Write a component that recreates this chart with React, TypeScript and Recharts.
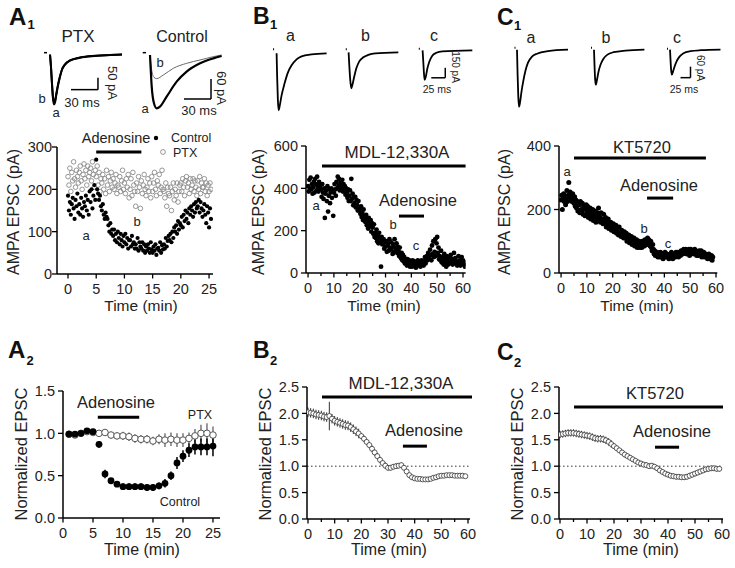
import React from 'react';
import { ScatterChart, Scatter, XAxis, YAxis, ReferenceLine, ErrorBar, LineChart, Line } from 'recharts';

const FONT = '"Liberation Sans", Arial, Helvetica, sans-serif';
const INK = '#222';

// ---------------- A1 scatter (pA), one sweep every 10 s ----------------
const A1_DT = 1 / 6;
const A1_CONTROL = [
  185,150,170,140,165,180, 155,130,175,160,190,145, 165,140,180,155,135,170, 160,185,150,175,140,195,
  170,200,155,185,210,175, 270,200,190,175,185,160, 150,165,140,130,145,135, 130,115,100,120,95,105,
  90,105,80,95,75,100, 85,70,95,80,65,90, 75,95,70,85,60,80, 80,65,90,70,75,60,
  70,60,85,55,75,65, 60,75,55,70,50,65, 55,70,60,50,75,58, 50,65,55,70,45,60,
  62,55,75,50,68,58, 70,60,85,65,78,90, 80,95,75,100,85,110, 100,115,95,125,105,120,
  115,135,110,140,125,150, 130,145,120,155,140,160, 150,135,165,145,170,155, 160,175,145,170,155,135,
  150,165,140,120,160,145, 110,155,130,
];
const A1_PTX = [
  230,210,250,195,240,220, 265,225,205,245,230,215, 240,255,220,200,235,260, 225,245,210,255,230,240,
  250,220,265,235,205,245, 230,255,210,240,195,225, 215,235,200,225,190,245, 210,230,195,220,240,205,
  225,200,215,235,190,210, 205,230,195,220,245,200, 215,190,225,205,235,180, 200,225,185,240,210,195,
  160,215,195,230,205,155, 220,190,210,235,200,185, 205,225,195,215,180,230, 195,215,240,200,185,220,
  210,235,190,205,245,200, 195,180,215,160,205,190, 185,205,150,195,215,175, 200,185,215,170,195,210,
  215,195,225,205,185,220, 230,205,215,190,225,200, 210,225,195,220,205,185, 220,200,230,190,215,205,
  205,225,195,215,185,210, 195,215,200,
];
const A1_X_TICKS = [0, 5, 10, 15, 20, 25];
const A1_Y_TICKS = [0, 100, 200, 300];

// ---------------- B1 scatter (pA), 4 sweeps / min ----------------
const B1_DT = 0.25;
const B1_MDL = [
  410,385,440,400, 450,395,420,375, 405,430,380,445, 420,390,455,410, 385,430,400,415,
  395,360,420,380, 350,400,260,375, 390,340,410,290, 365,395,330,380, 400,355,385,270,
  380,420,395,365, 430,400,455,410, 445,390,425,405, 415,440,385,420, 395,410,370,400,
  380,355,395,340, 365,390,340,445, 350,375,320,360, 330,360,310,345, 320,295,340,305,
  300,280,315,265, 285,250,300,270, 260,240,275,225, 245,210,260,230, 220,250,195,235,
  215,185,230,170, 190,165,205,150, 175,140,190,160, 150,30,170,135, 140,160,115,150,
  125,150,100,140, 130,105,160,115, 110,145,120,90, 135,100,160,120, 115,140,95,125,
  105,80,120,90, 70,95,60,85, 55,75,45,65, 50,35,65,45, 40,60,30,55,
  45,30,60,40, 35,55,40,25, 50,35,60,45, 40,55,30,50, 60,40,50,35,
  55,75,45,65, 80,60,95,70, 70,110,85,60, 130,90,150,75, 100,160,80,140,
  170,95,120,65, 80,60,105,50, 55,75,40,90, 45,65,30,80, 60,40,75,50,
  55,85,45,65, 40,60,95,50, 70,45,55,35, 50,80,40,60, 35,55,75,45,
  60,40,50,30,
];
const B1_X_TICKS = [0,5,10,15,20,25,30,35,40,45,50,55,60];
const X_MAJORS_60 = [0, 10, 20, 30, 40, 50, 60];
const B1_Y_TICKS = [0, 200, 400, 600];

// ---------------- C1 scatter (pA), 4 sweeps / min ----------------
const C1_DT = 0.25;
const C1_KT = [
  230,245,200,235, 250,225,240,215, 235,260,225,245, 285,240,255,230, 245,225,250,235,
  220,240,210,230, 205,225,195,215, 215,190,225,200, 195,220,185,210, 205,180,200,215,
  190,210,175,200, 185,205,170,195, 180,200,165,190, 175,195,160,185, 190,170,205,180,
  175,160,190,165, 170,155,185,160, 160,175,145,165, 150,170,140,160, 145,160,135,150,
  140,155,130,145, 135,150,125,140, 130,120,145,125, 125,115,135,120, 120,110,130,115,
  110,125,100,115, 105,120,95,110, 100,115,90,105, 95,110,85,100, 90,105,80,95,
  85,100,80,90, 90,80,100,85, 95,85,105,90, 100,90,110,95, 105,95,85,100,
  80,70,90,75, 60,70,55,65, 55,65,50,60, 60,50,65,55, 50,60,45,55,
  55,65,50,60, 60,50,55,45, 50,60,55,65, 55,45,60,50, 60,50,65,55,
  55,65,50,60, 65,55,70,60, 70,60,75,65, 65,75,60,70, 70,60,75,55,
  65,75,60,70, 70,60,65,75, 60,70,55,65, 65,55,70,60, 60,70,50,65,
  55,65,50,60, 60,50,55,45, 50,60,45,55, 45,55,40,50,
];
const C1_Y_TICKS = [0, 200, 400];

// ---------------- A2 normalized (mean, SEM) ----------------
const A2_TIME = [1,2,3,4,5,6,7,8,9,10,11,12,13,14,15,16,17,18,19,20,21,22,23,24,25];
const A2_CONTROL = [0.99,0.99,1.00,1.03,1.02,0.87,0.52,0.44,0.40,0.37,0.37,0.37,0.37,0.36,0.36,0.38,0.41,0.50,0.65,0.73,0.80,0.84,0.84,0.84,0.85];
const A2_CONTROL_SEM = [0.03,0.03,0.03,0.03,0.03,0.04,0.05,0.03,0.03,0.04,0.04,0.04,0.04,0.04,0.04,0.04,0.05,0.05,0.07,0.07,0.08,0.09,0.10,0.10,0.12];
const A2_PTX = [0.99,0.98,1.00,1.02,1.01,1.00,1.01,0.98,0.97,0.97,0.96,0.94,0.93,0.93,0.91,0.93,0.92,0.93,0.92,0.92,0.94,0.97,1.00,1.00,0.98];
const A2_PTX_SEM = [0.02,0.02,0.02,0.02,0.02,0.02,0.03,0.04,0.04,0.05,0.05,0.05,0.05,0.05,0.05,0.06,0.08,0.08,0.08,0.08,0.07,0.08,0.10,0.12,0.10];
const A2_Y_TICKS = [0, 0.5, 1, 1.5];

// ---------------- B2 / C2 normalized, 1 point / min from t = 0 ----------------
const B2_MDL = [2.02,2.01,2.00,1.98,1.97,1.96,1.94,1.93,1.95,1.90, 1.86,1.84,1.82,1.80,1.78,1.77,1.74,1.70,1.66,1.62,
  1.57,1.52,1.46,1.40,1.33,1.26,1.19,1.12,1.06,1.01, 0.97,0.97,0.99,1.00,1.01,1.02,0.97,0.90,0.83,0.79,
  0.77,0.76,0.76,0.75,0.75,0.75,0.76,0.78,0.79,0.81, 0.82,0.82,0.83,0.83,0.83,0.82,0.82,0.82,0.82,0.81];
const B2_SEM = [0.09,0.09,0.09,0.09,0.09,0.09,0.09,0.09,0.27,0.09, 0.09,0.09,0.09,0.09,0.09,0.09,0.09,0.09,0.09,0.09,
  0.06,0.06,0.06,0.06,0.06,0.06,0.06,0.06,0.06,0.06, 0.05,0.05,0.05,0.05,0.05,0.05,0.04,0.04,0.04,0.04,
  0.04,0.04,0.04,0.04,0.04,0.04,0.04,0.04,0.04,0.04, 0.04,0.04,0.04,0.04,0.04,0.04,0.04,0.04,0.04,0.04];
const C2_KT = [1.60,1.61,1.62,1.63,1.63,1.63,1.62,1.61,1.60,1.59, 1.58,1.57,1.55,1.53,1.52,1.52,1.51,1.49,1.46,1.42,
  1.38,1.34,1.30,1.26,1.22,1.19,1.16,1.13,1.10,1.07, 1.05,1.03,1.02,1.00,1.01,0.99,0.96,0.92,0.89,0.86,
  0.84,0.82,0.81,0.80,0.80,0.79,0.79,0.80,0.82,0.84, 0.86,0.88,0.90,0.92,0.94,0.95,0.96,0.96,0.95,0.95];
const C2_SEM = [0.07,0.07,0.07,0.07,0.07,0.07,0.07,0.07,0.07,0.07, 0.07,0.07,0.07,0.07,0.07,0.07,0.07,0.07,0.07,0.07,
  0.05,0.05,0.05,0.05,0.05,0.05,0.05,0.05,0.05,0.05, 0.05,0.05,0.05,0.05,0.05,0.05,0.05,0.05,0.05,0.05,
  0.05,0.05,0.05,0.05,0.05,0.05,0.05,0.05,0.05,0.05, 0.05,0.05,0.05,0.05,0.05,0.05,0.05,0.05,0.05,0.05];
const N_Y_TICKS = [0, 0.5, 1, 1.5, 2, 2.5];

// ---------------- example EPSC traces [ms, pA] ----------------
const A1_PTX_A: [number, number][] = [[0,0],[1.1,-54],[2.2,-125],[3.3,-183],[4.4,-208],[5.6,-200],[6.7,-175],[8.9,-129],[11.1,-92],[13.3,-63],[16.7,-42],[22.2,-25],[33.3,-13],[50,-6],[66.7,-2],[80,0]];
const A1_PTX_B: [number, number][] = [[0,0],[1.1,-50],[2.2,-118],[3.3,-175],[4.4,-200],[5.6,-193],[6.7,-170],[8.9,-125],[11.1,-90],[13.3,-62],[16.7,-41],[22.2,-24],[33.3,-12],[50,-5],[66.7,-2],[80,0]];
const A1_CTRL_A: [number, number][] = [[0,0],[1.9,-95],[4.4,-145],[7.4,-160],[11.1,-155],[18.5,-125],[29.6,-80],[40.7,-50],[55.6,-25],[70.4,-10],[79.6,-3]];
const A1_CTRL_B: [number, number][] = [[0,0],[1.9,-45],[4.4,-67],[7.4,-71],[14.8,-60],[25.9,-40],[40.7,-25],[55.6,-15],[70.4,-5],[79.6,0]];
const B1_TR_A: [number, number][] = [[0,0],[0.9,-330],[2.3,-705],[3.6,-855],[5.4,-795],[8.9,-630],[14.3,-450],[19.6,-300],[26.8,-180],[35.7,-90],[44.6,-45],[62.5,-15],[89.3,0]];
const B1_TR_B: [number, number][] = [[0,0],[1.25,-195],[3.0,-420],[4.8,-540],[6.6,-495],[10.2,-360],[13.8,-240],[19.1,-135],[26.3,-75],[35.2,-38],[47.7,-15],[88.8,0]];
const B1_TR_C: [number, number][] = [[0,0],[1.25,-172],[2.5,-352],[3.6,-442],[5.7,-397],[8.4,-277],[12,-172],[17.3,-82],[24.5,-37],[35.2,-15],[88.8,0]];
const C1_TR_A: [number, number][] = [[0,0],[1.5,-136],[3.25,-256],[5,-311],[7.5,-289],[11.25,-229],[15,-180],[21.25,-114],[27.5,-71],[37.5,-38],[50,-22],[77.5,-8],[127.5,0]];
const C1_TR_B: [number, number][] = [[0,0],[1.25,-82],[2.75,-158],[4.5,-191],[7.5,-164],[11.25,-120],[16.25,-82],[23.75,-49],[33.75,-27],[48.75,-14],[78.75,-5],[126,0]];
const C1_TR_C: [number, number][] = [[0,0],[1.25,-54],[2.75,-109],[4.5,-136],[7.5,-120],[11.25,-93],[16.25,-65],[23.75,-38],[33.75,-19],[51.25,-8],[76.25,-3],[126.25,0]];

// ---------------- helpers ----------------
const series = (vals: number[], t0: number, dt: number) => vals.map((y, i) => ({ x: t0 + i * dt, y }));
const zip = (ts: number[], ys: number[], es: number[]) => ts.map((x, i) => ({ x, y: ys[i], e: es[i] }));
const idxZip = (ys: number[], es: number[]) => ys.map((y, i) => ({ x: i, y, e: es[i] }));

const fmtInt = (v: number) => String(v);
const fmt1 = (v: number) => v.toFixed(1);
const TICK_FS = 14.5;

const makeXTick = (majors: number[] | null, fs: number) => (p: any) => {
  const { x, y, payload } = p;
  const v = payload.value;
  const major = !majors || majors.includes(v);
  return (
    <g>
      <line x1={x} x2={x} y1={y} y2={y + (major ? 4.5 : 3)} stroke="#000" strokeWidth={1.3} />
      {major && (
        <text x={x} y={y + 20} textAnchor="middle" fontSize={fs} fontFamily={FONT} fill={INK}>{fmtInt(v)}</text>
      )}
    </g>
  );
};
const makeYTick = (fmt: (v: number) => string, gap: number, fs: number) => (p: any) => {
  const { x, y, payload } = p;
  return (
    <g>
      <line x1={x - 5} x2={x} y1={y} y2={y} stroke="#000" strokeWidth={1.3} />
      <text x={x - gap} y={y + 5.2} textAnchor="end" fontSize={fs} fontFamily={FONT} fill={INK}>{fmt(payload.value)}</text>
    </g>
  );
};

type PlotProps = {
  x0: number; x1: number; y0: number; y1: number;
  xDom: [number, number]; yDom: [number, number];
  xTicks: number[]; xMajors: number[] | null;
  yTicks: number[]; yFmt: (v: number) => string; yGap: number;
  children?: React.ReactNode;
};
function Plot({ x0, x1, y0, y1, xDom, yDom, xTicks, xMajors, yTicks, yFmt, yGap, children }: PlotProps) {
  const L = 50, R = 14, T = 14, B = 30;
  const w = x1 - x0 + L + R;
  const h = y1 - y0 + T + B;
  return (
    <div style={{ position: 'absolute', left: x0 - L, top: y0 - T, width: w, height: h }}>
      <ScatterChart width={w} height={h} margin={{ top: T, right: R, bottom: 0, left: 0 }} style={{ overflow: 'visible' }}>
        <XAxis type="number" dataKey="x" domain={xDom} ticks={xTicks} interval={0} height={B}
          tickSize={0} tickMargin={0} tickLine={false} allowDataOverflow
          axisLine={{ stroke: '#000', strokeWidth: 1.5 }} tick={makeXTick(xMajors, TICK_FS)} />
        <YAxis type="number" dataKey="y" domain={yDom} ticks={yTicks} interval={0} width={L}
          tickSize={0} tickMargin={0} tickLine={false} allowDataOverflow
          axisLine={{ stroke: '#000', strokeWidth: 1.5 }} tick={makeYTick(yFmt, yGap, TICK_FS)} />
        {children}
      </ScatterChart>
    </div>
  );
}

type TraceLine = { data: [number, number][]; color: string; width: number };
type Seg = { a: [number, number]; b: [number, number]; w: number };
type TraceProps = {
  ox: number; oy: number; pxPerMs: number; paPerPx: number;
  xDom: [number, number]; yDom: [number, number];
  lines: TraceLine[]; segs: Seg[];
};
function Trace({ ox, oy, pxPerMs, paPerPx, xDom, yDom, lines, segs }: TraceProps) {
  const P = 4;
  const x0 = ox + xDom[0] * pxPerMs;
  const x1 = ox + xDom[1] * pxPerMs;
  const y0 = oy - yDom[1] / paPerPx;
  const y1 = oy - yDom[0] / paPerPx;
  const w = x1 - x0 + 2 * P;
  const h = y1 - y0 + 2 * P;
  return (
    <div style={{ position: 'absolute', left: x0 - P, top: y0 - P, width: w, height: h }}>
      <LineChart width={w} height={h} margin={{ top: P, right: P, bottom: P, left: P }}>
        <XAxis type="number" dataKey="t" domain={xDom} hide allowDataOverflow />
        <YAxis type="number" dataKey="v" domain={yDom} hide allowDataOverflow />
        {lines.map((l, i) => (
          <Line key={i} data={l.data.map(([t, v]) => ({ t, v }))} dataKey="v" type="monotone" dot={false}
            stroke={l.color} strokeWidth={l.width} isAnimationActive={false} />
        ))}
        {segs.map((s, i) => (
          <ReferenceLine key={'s' + i} segment={[{ x: s.a[0], y: s.a[1] }, { x: s.b[0], y: s.b[1] }]}
            stroke="#000" strokeWidth={s.w} ifOverflow="visible" />
        ))}
      </LineChart>
    </div>
  );
}

const filled = (r: number, fill: string) => (p: any) => <circle cx={p.cx} cy={p.cy} r={r} fill={fill} />;
const open = (r: number, stroke: string, fill: string, sw: number) => (p: any) =>
  <circle cx={p.cx} cy={p.cy} r={r} fill={fill} stroke={stroke} strokeWidth={sw} />;

const bar = (x1: number, x2: number, y: number, w = 3) => (
  <ReferenceLine segment={[{ x: x1, y }, { x: x2, y }]} stroke="#000" strokeWidth={w} ifOverflow="visible" />
);

function Txt({ x, y, s, children, anchor = 'middle', rot = 0, bold = false, fill = INK }: any) {
  return (
    <text x={x} y={y} fontSize={s} fontFamily={FONT} textAnchor={anchor} fill={fill}
      fontWeight={bold ? 'bold' : 'normal'}
      dominantBaseline={rot ? 'central' : undefined}
      transform={rot ? `rotate(${rot} ${x} ${y})` : undefined}>{children}</text>
  );
}

export default function App() {
  const a1c = series(A1_CONTROL, 0, A1_DT);
  const a1p = series(A1_PTX, 0, A1_DT);
  const b1 = series(B1_MDL, 0, B1_DT);
  const c1 = series(C1_KT, 0, C1_DT);
  const a2c = zip(A2_TIME, A2_CONTROL, A2_CONTROL_SEM);
  const a2p = zip(A2_TIME, A2_PTX, A2_PTX_SEM);
  const b2 = idxZip(B2_MDL, B2_SEM);
  const c2 = idxZip(C2_KT, C2_SEM);

  return (
    <div style={{ position: 'absolute', left: 0, top: 0, width: 735, height: 568, background: '#fff', fontFamily: FONT }}>
      {/* ---------- traces ---------- */}
      <Trace ox={50} oy={55} pxPerMs={0.9} paPerPx={50 / 12} xDom={[-10, 85]} yDom={[-220, 15]}
        lines={[{ data: A1_PTX_B, color: '#000', width: 2 }, { data: A1_PTX_A, color: '#000', width: 2 }]}
        segs={[{ a: [-6.7, 8], b: [-3.3, 8], w: 1.5 }, { a: [23.3, -146], b: [53.3, -146], w: 1.5 }, { a: [53.3, -146], b: [53.3, -96], w: 1.5 }]} />
      <Trace ox={150} oy={55} pxPerMs={0.9} paPerPx={3} xDom={[-10, 85]} yDom={[-170, 15]}
        lines={[{ data: A1_CTRL_B, color: '#666', width: 1 }, { data: A1_CTRL_A, color: '#000', width: 2.2 }]}
        segs={[{ a: [-8.1, 7], b: [-4.4, 7], w: 1.5 }, { a: [37.8, -132], b: [67.8, -132], w: 1.5 }, { a: [67.8, -132], b: [67.8, -72], w: 1.5 }]} />
      <Trace ox={277} oy={53} pxPerMs={0.56} paPerPx={15} xDom={[-10, 92]} yDom={[-900, 80]}
        lines={[{ data: B1_TR_A, color: '#000', width: 1.8 }]}
        segs={[{ a: [-6.3, 60], b: [-4.5, 60], w: 2 }]} />
      <Trace ox={348.3} oy={52} pxPerMs={0.56} paPerPx={15} xDom={[-10, 92]} yDom={[-900, 80]}
        lines={[{ data: B1_TR_B, color: '#000', width: 1.8 }]}
        segs={[{ a: [-5, 45], b: [-3.2, 45], w: 2 }]} />
      <Trace ox={422.3} oy={50.5} pxPerMs={0.56} paPerPx={15} xDom={[-10, 92]} yDom={[-900, 80]}
        lines={[{ data: B1_TR_C, color: '#000', width: 1.8 }]}
        segs={[{ a: [-6.8, 22], b: [-5, 22], w: 2 }, { a: [15.5, -412], b: [40.5, -412], w: 1.5 }, { a: [40.5, -412], b: [40.5, -262], w: 1.5 }]} />
      <Trace ox={517} oy={50} pxPerMs={0.4} paPerPx={5.45} xDom={[-10, 130]} yDom={[-330, 20]}
        lines={[{ data: C1_TR_A, color: '#000', width: 1.8 }]}
        segs={[{ a: [-6.2, 11], b: [-3.8, 11], w: 2 }]} />
      <Trace ox={593.5} oy={50} pxPerMs={0.4} paPerPx={5.45} xDom={[-10, 130]} yDom={[-330, 20]}
        lines={[{ data: C1_TR_B, color: '#000', width: 1.8 }]}
        segs={[{ a: [-7.4, 11], b: [-5, 11], w: 2 }]} />
      <Trace ox={669.5} oy={50} pxPerMs={0.4} paPerPx={5.45} xDom={[-10, 130]} yDom={[-330, 20]}
        lines={[{ data: C1_TR_C, color: '#000', width: 1.8 }]}
        segs={[{ a: [-7.4, 5.5], b: [-5, 5.5], w: 2 }, { a: [26.25, -152.6], b: [51.25, -152.6], w: 1.5 }, { a: [51.25, -152.6], b: [51.25, -92.6], w: 1.5 }]} />

      {/* ---------- A1 ---------- */}
      <Plot x0={57} x1={213} y0={147} y1={274} xDom={[-1.95, 25.7]} yDom={[0, 300]}
        xTicks={A1_X_TICKS} xMajors={null} yTicks={A1_Y_TICKS} yFmt={fmtInt} yGap={5}>
        <Scatter data={a1p} shape={open(2.3, '#8a8a8a', 'none', 0.9)} isAnimationActive={false} />
        <Scatter data={a1c} shape={filled(2.1, '#000')} isAnimationActive={false} />
        {bar(5, 13, 288)}
      </Plot>

      {/* ---------- B1 ---------- */}
      <Plot x0={306} x1={465.6} y0={146} y1={273} xDom={[-0.8, 61]} yDom={[0, 600]}
        xTicks={B1_X_TICKS} xMajors={X_MAJORS_60} yTicks={B1_Y_TICKS} yFmt={fmtInt} yGap={8}>
        <Scatter data={b1} shape={filled(2.4, '#000')} isAnimationActive={false} />
        {bar(5.4, 61, 505)}
        {bar(35.2, 44.9, 269)}
      </Plot>

      {/* ---------- C1 ---------- */}
      <Plot x0={559} x1={717.3} y0={146} y1={273} xDom={[-0.8, 60.5]} yDom={[0, 400]}
        xTicks={B1_X_TICKS} xMajors={X_MAJORS_60} yTicks={C1_Y_TICKS} yFmt={fmtInt} yGap={8}>
        <Scatter data={c1} shape={filled(2.5, '#000')} isAnimationActive={false} />
        {bar(5, 56.1, 362)}
        {bar(33.3, 43.4, 236)}
      </Plot>

      {/* ---------- A2 ---------- */}
      <Plot x0={63} x1={220} y0={391} y1={518} xDom={[0, 26.17]} yDom={[0, 1.5]}
        xTicks={A1_X_TICKS} xMajors={null} yTicks={A2_Y_TICKS} yFmt={fmt1} yGap={8}>
        <Scatter data={a2p} shape={open(3.3, '#555', '#fff', 1)} isAnimationActive={false}>
          <ErrorBar dataKey="e" direction="y" width={0} stroke="#555" strokeWidth={1.2} />
        </Scatter>
        <Scatter data={a2c} shape={filled(3.4, '#000')} isAnimationActive={false}>
          <ErrorBar dataKey="e" direction="y" width={0} stroke="#000" strokeWidth={1.5} />
        </Scatter>
        {bar(5.8, 12.7, 1.19)}
      </Plot>

      {/* ---------- B2 ---------- */}
      <Plot x0={307} x1={470} y0={387} y1={519} xDom={[-0.375, 60.75]} yDom={[0, 2.5]}
        xTicks={B1_X_TICKS} xMajors={X_MAJORS_60} yTicks={N_Y_TICKS} yFmt={fmt1} yGap={8}>
        <ReferenceLine y={1} stroke="#333" strokeWidth={1} strokeDasharray="1.5 2.5" />
        <Scatter data={b2} shape={open(2.5, '#333', '#fff', 0.8)} isAnimationActive={false}>
          <ErrorBar dataKey="e" direction="y" width={0} stroke="#333" strokeWidth={1} />
        </Scatter>
        {bar(5.25, 61.5, 2.31)}
        {bar(35.6, 44.6, 1.38)}
      </Plot>

      {/* ---------- C2 ---------- */}
      <Plot x0={559} x1={723} y0={387} y1={519} xDom={[-0.37, 60.37]} yDom={[0, 2.5]}
        xTicks={B1_X_TICKS} xMajors={X_MAJORS_60} yTicks={N_Y_TICKS} yFmt={fmt1} yGap={8}>
        <ReferenceLine y={1} stroke="#333" strokeWidth={1} strokeDasharray="1.5 2.5" />
        <Scatter data={c2} shape={open(2.5, '#333', '#fff', 0.8)} isAnimationActive={false}>
          <ErrorBar dataKey="e" direction="y" width={0} stroke="#333" strokeWidth={1} />
        </Scatter>
        {bar(5.2, 60.37, 2.12)}
        {bar(35.2, 44.1, 1.36)}
      </Plot>

      {/* ---------- text overlay ---------- */}
      <svg width={735} height={568} style={{ position: 'absolute', left: 0, top: 0, pointerEvents: 'none' }}>
        {/* panel letters */}
        <Txt x={9} y={25} s={24} anchor="start" bold fill="#111">A</Txt>
        <Txt x={27.5} y={29} s={13} anchor="start" bold fill="#111">1</Txt>
        <Txt x={253} y={24} s={23} anchor="start" bold fill="#111">B</Txt>
        <Txt x={270} y={29} s={13} anchor="start" bold fill="#111">1</Txt>
        <Txt x={497} y={25} s={23} anchor="start" bold fill="#111">C</Txt>
        <Txt x={514} y={30} s={13} anchor="start" bold fill="#111">1</Txt>
        <Txt x={8} y={358} s={24} anchor="start" bold fill="#111">A</Txt>
        <Txt x={26.5} y={365} s={13} anchor="start" bold fill="#111">2</Txt>
        <Txt x={253} y={358} s={23} anchor="start" bold fill="#111">B</Txt>
        <Txt x={270} y={365} s={13} anchor="start" bold fill="#111">2</Txt>
        <Txt x={497} y={360} s={23} anchor="start" bold fill="#111">C</Txt>
        <Txt x={514} y={367} s={13} anchor="start" bold fill="#111">2</Txt>

        {/* A1 traces */}
        <Txt x={78} y={42} s={17}>PTX</Txt>
        <Txt x={182} y={42} s={16}>Control</Txt>
        <Txt x={42} y={103} s={13}>b</Txt>
        <Txt x={56} y={117} s={13}>a</Txt>
        <Txt x={160} y={67} s={13}>b</Txt>
        <Txt x={145} y={113} s={13}>a</Txt>
        <Txt x={82} y={107} s={13}>30 ms</Txt>
        <Txt x={112} y={83} s={13} rot={90}>50 pA</Txt>
        <Txt x={199} y={115} s={13}>30 ms</Txt>
        <Txt x={221} y={88} s={13} rot={90}>60 pA</Txt>

        {/* B1 traces */}
        <Txt x={290.5} y={41} s={16}>a</Txt>
        <Txt x={365.5} y={41} s={16}>b</Txt>
        <Txt x={434} y={41} s={16}>c</Txt>
        <Txt x={437} y={93} s={10.5}>25 ms</Txt>
        <Txt x={455} y={67} s={10} rot={90}>150 pA</Txt>

        {/* C1 traces */}
        <Txt x={531} y={43} s={16}>a</Txt>
        <Txt x={606} y={43} s={16}>b</Txt>
        <Txt x={677} y={43} s={16}>c</Txt>
        <Txt x={684} y={93} s={10.5}>25 ms</Txt>
        <Txt x={700} y={68} s={10} rot={90}>60 pA</Txt>

        {/* A1 scatter */}
        <Txt x={116} y={143} s={14.5}>Adenosine</Txt>
        <circle cx={156} cy={138} r={2.2} fill="#000" />
        <Txt x={171} y={142} s={12.5} anchor="start">Control</Txt>
        <circle cx={163} cy={152} r={2.4} fill="none" stroke="#8a8a8a" strokeWidth={0.9} />
        <Txt x={173} y={157} s={12.5} anchor="start">PTX</Txt>
        <Txt x={86} y={240} s={13}>a</Txt>
        <Txt x={137} y={226} s={13}>b</Txt>
        <Txt x={13.5} y={212} s={16} rot={-90}>AMPA EPSC (pA)</Txt>
        <Txt x={141} y={311} s={15.5}>Time (min)</Txt>

        {/* B1 scatter */}
        <Txt x={397} y={158} s={17}>MDL-12,330A</Txt>
        <Txt x={418} y={206} s={16.5}>Adenosine</Txt>
        <Txt x={316} y={210} s={13}>a</Txt>
        <Txt x={393} y={229} s={13}>b</Txt>
        <Txt x={416} y={250} s={13}>c</Txt>
        <Txt x={258} y={212} s={16} rot={-90}>AMPA EPSC (pA)</Txt>
        <Txt x={384} y={311} s={15.5}>Time (min)</Txt>

        {/* C1 scatter */}
        <Txt x={642} y={153} s={16.5}>KT5720</Txt>
        <Txt x={659} y={191} s={16.5}>Adenosine</Txt>
        <Txt x={567} y={176} s={13}>a</Txt>
        <Txt x={644} y={233} s={13}>b</Txt>
        <Txt x={668} y={248} s={13}>c</Txt>
        <Txt x={504} y={212} s={16} rot={-90}>AMPA EPSC (pA)</Txt>
        <Txt x={637} y={311} s={15.5}>Time (min)</Txt>

        {/* A2 */}
        <Txt x={116} y={408} s={16.5}>Adenosine</Txt>
        <Txt x={200} y={419} s={12.5}>PTX</Txt>
        <Txt x={180} y={506} s={12.5}>Control</Txt>
        <Txt x={21} y={454} s={16.5} rot={-90}>Normalized EPSC</Txt>
        <Txt x={142} y={555} s={16}>Time (min)</Txt>

        {/* B2 */}
        <Txt x={401} y={389} s={17}>MDL-12,330A</Txt>
        <Txt x={424} y={436} s={16.5}>Adenosine</Txt>
        <Txt x={265} y={454} s={16.5} rot={-90}>Normalized EPSC</Txt>
        <Txt x={389} y={555} s={16}>Time (min)</Txt>

        {/* C2 */}
        <Txt x={655} y={399} s={16.5}>KT5720</Txt>
        <Txt x={672} y={437} s={16.5}>Adenosine</Txt>
        <Txt x={517} y={454} s={16.5} rot={-90}>Normalized EPSC</Txt>
        <Txt x={641} y={555} s={16}>Time (min)</Txt>
      </svg>
    </div>
  );
}
